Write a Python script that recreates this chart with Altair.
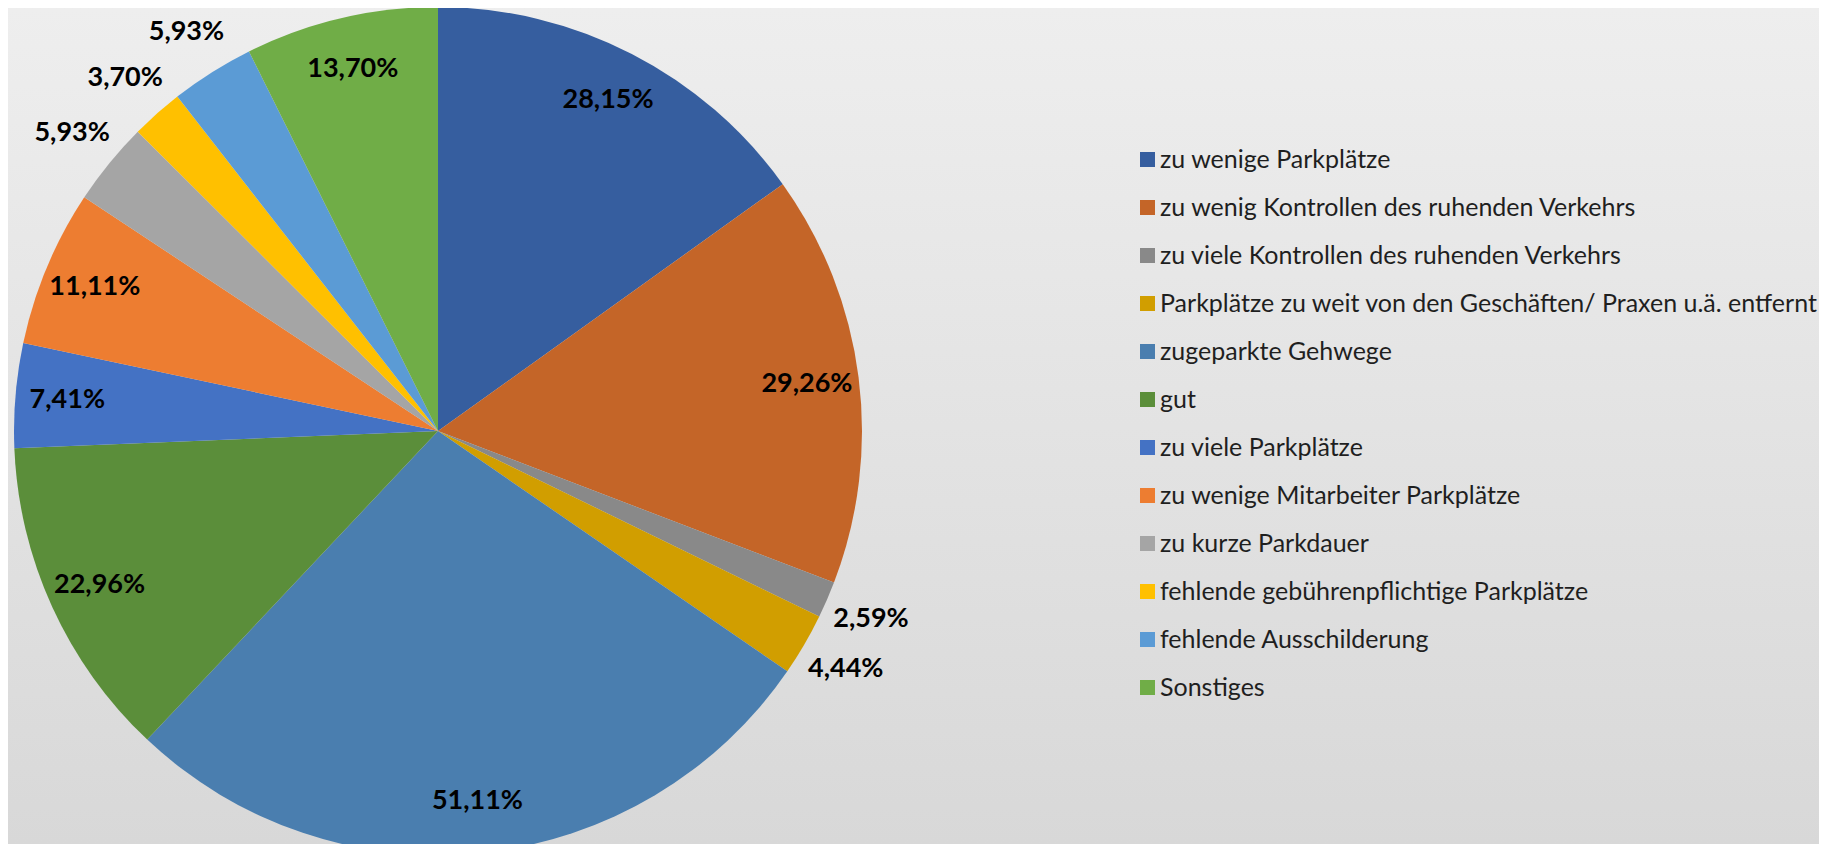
import altair as alt
import pandas as pd

categories = [
    "zu wenige Parkplätze",
    "zu wenig Kontrollen des ruhenden Verkehrs",
    "zu viele Kontrollen des ruhenden Verkehrs",
    "Parkplätze zu weit von den Geschäften/ Praxen u.ä. entfernt",
    "zugeparkte Gehwege",
    "gut",
    "zu viele Parkplätze",
    "zu wenige Mitarbeiter Parkplätze",
    "zu kurze Parkdauer",
    "fehlende gebührenpflichtige Parkplätze",
    "fehlende Ausschilderung",
    "Sonstiges",
]
values = [28.15, 29.26, 2.59, 4.44, 51.11, 22.96, 7.41, 11.11, 5.93, 3.70, 5.93, 13.70]
colors = [
    "#365E9F", "#C46528", "#898989", "#D19E00", "#4A7EAF", "#5B8E3A",
    "#4472C4", "#ED7D31", "#A5A5A5", "#FFC000", "#5B9BD5", "#70AD47",
]

df = pd.DataFrame({"kategorie": categories, "wert": values, "idx": list(range(len(values)))})

W, H = 1811, 836
CX, CY, R = 430, 423, 424

bg = alt.Chart(alt.Data(values=[{"a": 1}])).mark_rect(
    fill=alt.LinearGradient(
        gradient="linear",
        stops=[alt.GradientStop(color="#EEEEEE", offset=0),
               alt.GradientStop(color="#D8D8D8", offset=1)],
        x1=0, x2=0, y1=0, y2=1,
    ),
    strokeWidth=0,
).encode(x=alt.value(0), x2=alt.value(W), y=alt.value(0), y2=alt.value(H))

arcs = alt.Chart(df).mark_arc(radius=R, strokeWidth=0).encode(
    theta=alt.Theta("wert:Q", stack=True),
    order=alt.Order("idx:Q", sort="ascending"),
    x=alt.value(CX),
    y=alt.value(CY),
    color=alt.Color(
        "kategorie:N",
        sort=categories,
        scale=alt.Scale(domain=categories, range=colors),
        legend=alt.Legend(
            title=None,
            orient="none",
            legendX=1127,
            legendY=139,
            symbolType="square",
            symbolSize=225,
            symbolStrokeWidth=0,
            symbolOpacity=1,
            labelFont="Lato",
            labelFontSize=25,
            labelColor="#1f1f1f",
            labelLimit=900,
            labelOffset=0,
            rowPadding=22,
        ),
    ),
)

labels = alt.Chart(df).transform_stack(
    stack="wert",
    groupby=[],
    as_=["s0", "s1"],
    sort=[alt.SortField("idx", order="ascending")],
).transform_calculate(
    mid="(datum.s0 + datum.s1) / 2",
    lbl="replace(format(datum.wert, '.2f'), '.', ',') + '%'",
    lr="datum.wert < 7 ? 472 : 372",
).mark_text(
    font="Lato", fontSize=27, fontWeight="bold", color="#000000",
    align="center", baseline="middle",
).encode(
    theta=alt.Theta("mid:Q"),
    x=alt.value(CX),
    y=alt.value(CY),
    radius=alt.Radius("lr:Q", scale=None),
    text="lbl:N",
)

chart = alt.layer(bg, arcs, labels).properties(
    width=W, height=H, padding=0,
    autosize=alt.AutoSizeParams(type="none"),
    background="#E3E3E3",
).configure_view(stroke=None)

chart.save("out.html", embed_options={"renderer": "svg", "actions": False})
